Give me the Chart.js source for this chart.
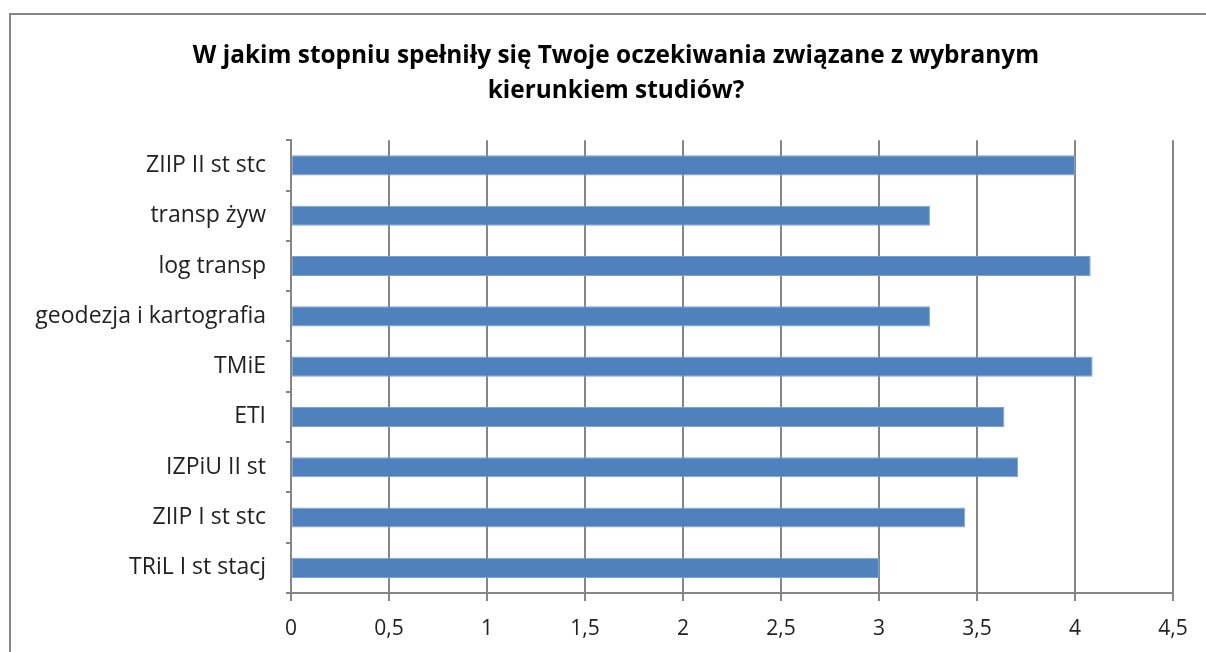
<!DOCTYPE html>
<html>
<head>
<meta charset="utf-8">
<script src="https://cdn.jsdelivr.net/npm/chart.js@4"></script>
<style>
  html, body { margin: 0; padding: 0; background: #fff; }
  #wrap { width: 1206px; height: 652px; position: relative; }
</style>
</head>
<body>
<div id="wrap"><canvas id="chart" width="1206" height="652"></canvas></div>
<script>
// dane z wykresu (od dołu do góry w oryginale, tu od góry)
const kierunki = [
  "ZIIP II st stc",
  "transp żyw",
  "log transp",
  "geodezja i kartografia",
  "TMiE",
  "ETI",
  "IZPiU II st",
  "ZIIP I st stc",
  "TRiL I st stacj"
];
const oceny = [4.0, 3.26, 4.08, 3.26, 4.09, 3.64, 3.71, 3.44, 3.0];
const tytul = [
  "W jakim stopniu spełniły się Twoje oczekiwania związane z wybranym",
  "kierunkiem studiów?"
];

const FONT = "'Open Sans', sans-serif";

// ramka wokół całego wykresu + przesunięcie tytułu na środek ramki
const ramka = {
  id: "ramka",
  afterLayout(c) {
    if (c.titleBlock) c.titleBlock.left = 59;
  },
  beforeDraw(c) {
    const ctx = c.ctx;
    ctx.save();
    ctx.strokeStyle = "#868686";
    ctx.lineWidth = 2;
    ctx.strokeRect(10, 14, 1220, 700);
    ctx.restore();
  }
};

const ctx = document.getElementById("chart").getContext("2d");
new Chart(ctx, {
  type: "bar",
  data: {
    labels: kierunki,
    datasets: [{
      data: oceny,
      backgroundColor: "#4F81BD",
      borderColor: "#7FA3D0",
      borderWidth: 1,
      borderSkipped: false,
      categoryPercentage: 1,
      barPercentage: 0.4
    }]
  },
  options: {
    indexAxis: "y",
    responsive: false,
    animation: false,
    layout: { padding: { top: 38, right: 33, left: 0, bottom: 0 } },
    plugins: {
      legend: { display: false },
      tooltip: { enabled: false },
      title: {
        display: true,
        text: tytul,
        color: "#000",
        font: { family: FONT, size: 24.4, weight: "bold", lineHeight: 1.44 },
        padding: { top: 0, bottom: 32 }
      }
    },
    scales: {
      x: {
        min: 0,
        max: 4.5,
        ticks: {
          stepSize: 0.5,
          color: "#222",
          padding: 15,
          font: { family: FONT, size: 21 },
          callback: v => String(v).replace(".", ",")
        },
        grid: { color: "#868686", lineWidth: 2, tickLength: 8 },
        border: { color: "#868686", width: 2 },
        afterFit(s) { s.height = 59; }
      },
      y: {
        ticks: {
          color: "#222",
          padding: 20,
          font: { family: FONT, size: 23 }
        },
        grid: { color: "#868686", lineWidth: 2, tickLength: 5, drawOnChartArea: false, offset: true },
        border: { color: "#868686", width: 2 },
        afterFit(s) { s.width = 291; }
      }
    }
  },
  plugins: [ramka]
});
</script>
</body>
</html>
